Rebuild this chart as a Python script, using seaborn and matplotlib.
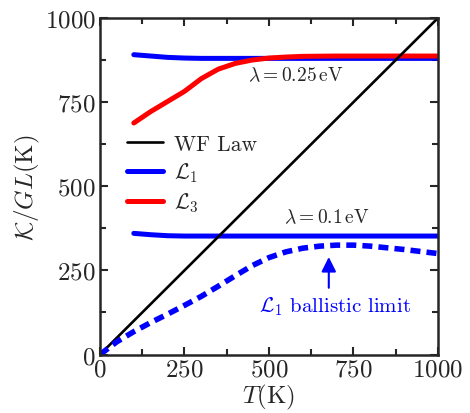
import matplotlib
matplotlib.use("Agg")
import matplotlib.pyplot as plt
import seaborn as sns
from matplotlib.ticker import MultipleLocator
from matplotlib.lines import Line2D

# lambda = 0.25 eV
t_l1_a = [100, 150, 200, 250, 300, 400, 500, 600, 700, 800, 900, 1000]
l1_a = [891, 887, 883, 881, 880, 880, 880, 880, 880, 880, 880, 880]
t_l3_a = [100, 150, 200, 250, 300, 350, 400, 450, 500, 550, 600, 700, 800, 900, 1000]
l3_a = [688, 722, 752, 782, 820, 848, 865, 875, 881, 884, 886, 887, 887, 887, 887]

# lambda = 0.1 eV
t_l1_b = [100, 150, 200, 250, 300, 400, 500, 600, 700, 800, 900, 1000]
l1_b = [360, 356, 353, 352, 352, 352, 352, 352, 352, 352, 352, 352]

# L1 ballistic limit
t_ball = [0, 50, 100, 150, 200, 250, 300, 350, 400, 450, 500, 550, 600, 650, 700, 750, 800, 850, 900, 950, 1000]
ball = [0, 38, 68, 95, 120, 146, 173, 203, 234, 264, 288, 305, 316, 322, 325, 325, 322, 317, 312, 306, 300]

# Wiedemann-Franz law
t_wf = [0, 1000]
wf = [0, 1000]

sns.set_style("ticks")
plt.rcParams["font.family"] = "serif"
plt.rcParams["font.serif"] = ["cmr10", "DejaVu Serif"]
plt.rcParams["mathtext.fontset"] = "cm"
plt.rcParams["axes.formatter.use_mathtext"] = True

fig = plt.figure(figsize=(4.7, 4.14), dpi=100)
ax = fig.add_axes([0.2128, 0.1413, 0.719, 0.8128])

blue, red = "#0000ff", "#ff0000"
sns.lineplot(x=t_l1_a, y=l1_a, ax=ax, color=blue, lw=3.6)
sns.lineplot(x=t_l3_a, y=l3_a, ax=ax, color=red, lw=3.6)
sns.lineplot(x=t_l1_b, y=l1_b, ax=ax, color=blue, lw=3.6)
sns.lineplot(x=t_wf, y=wf, ax=ax, color="black", lw=1.9)
sns.lineplot(x=t_ball, y=ball, ax=ax, color=blue, lw=4, linestyle=(0, (1.8, 1.1)))

ax.set_xlim(0, 1000)
ax.set_ylim(0, 1000)
ax.xaxis.set_major_locator(MultipleLocator(250))
ax.yaxis.set_major_locator(MultipleLocator(250))
ax.xaxis.set_minor_locator(MultipleLocator(125))
ax.yaxis.set_minor_locator(MultipleLocator(125))
ax.tick_params(which="both", direction="in", top=True, right=True, width=1.5, labelsize=18, pad=3)
ax.tick_params(which="major", length=6)
ax.tick_params(which="minor", length=4)
for s in ax.spines.values():
    s.set_linewidth(1.8)
    s.set_visible(True)

ax.set_xlabel(r"$T(\mathrm{K})$", fontsize=18, labelpad=1)
ax.set_ylabel(r"$\mathcal{K}/GL(\mathrm{K})$", fontsize=18, labelpad=2)

handles = [
    Line2D([], [], color="black", lw=1.9),
    Line2D([], [], color=blue, lw=3.6),
    Line2D([], [], color=red, lw=3.6),
]
labels = ["WF Law", r"$\mathcal{L}_1$", r"$\mathcal{L}_3$"]
ax.legend(handles, labels, loc="upper left", bbox_to_anchor=(0.054, 0.68), frameon=False,
          fontsize=15.5, handlelength=1.7, handletextpad=0.5, labelspacing=0.3, borderaxespad=0)

ax.text(580, 830, r"$\lambda = 0.25\,\mathrm{eV}$", fontsize=14, ha="center", va="center")
ax.text(672, 409, r"$\lambda = 0.1\,\mathrm{eV}$", fontsize=14, ha="center", va="center")
ax.annotate("", xy=(677, 298), xytext=(677, 190),
            arrowprops=dict(arrowstyle="-|>", color=blue, lw=1.5, mutation_scale=22))
ax.text(695, 145, r"$\mathcal{L}_1$ ballistic limit", fontsize=15, color=blue, ha="center", va="center")

fig.savefig("out.png", dpi=100)
